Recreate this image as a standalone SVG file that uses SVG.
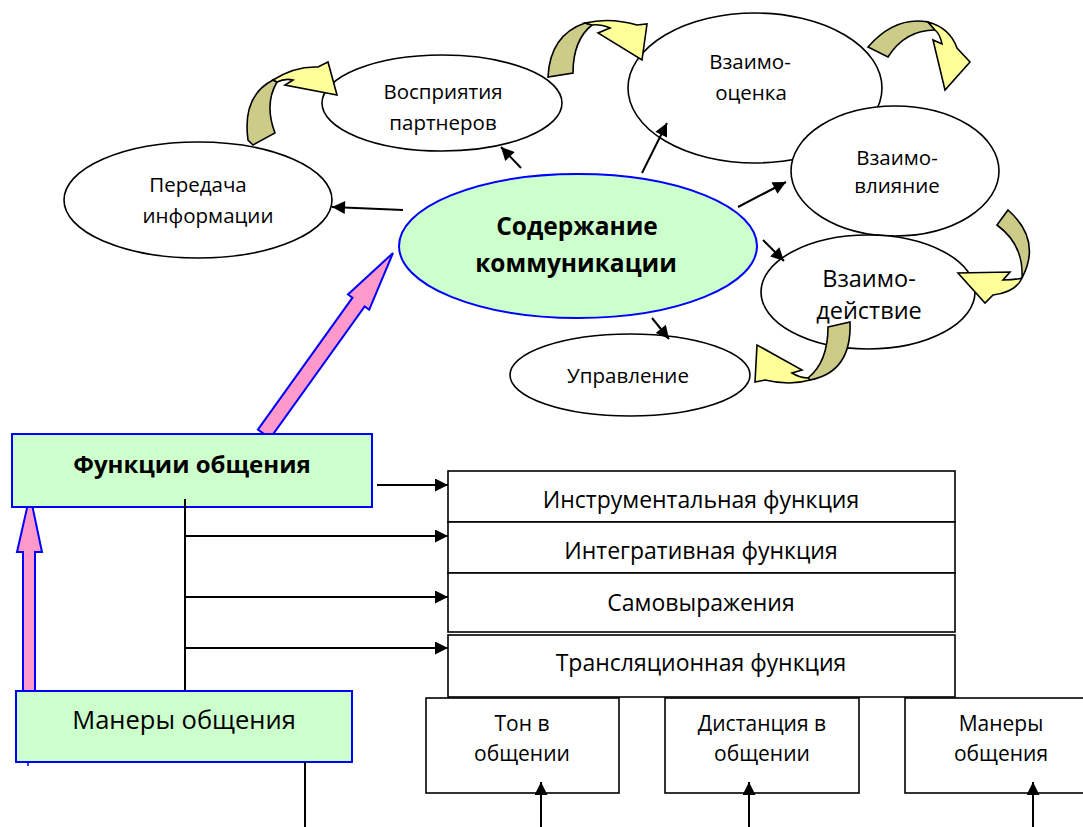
<svg xmlns="http://www.w3.org/2000/svg" width="1083" height="827" viewBox="0 0 1083 827">
<style>
text{font-family:"Open Sans","Liberation Sans",sans-serif;fill:#000;text-anchor:middle}
.el{fill:#fff;stroke:#000;stroke-width:1.6}
.main{fill:#ccffcc;stroke:#0000ff;stroke-width:2}
.box{fill:#fff;stroke:#000;stroke-width:1.6}
.gbox{fill:#ccffcc;stroke:#0000ff;stroke-width:2}
.ln{stroke:#000;stroke-width:2;fill:none}
.ar{stroke:#000;stroke-width:2;fill:none;marker-end:url(#ah)}
.dk{fill:#cccc88;stroke:#000;stroke-width:1.6;stroke-linejoin:miter}
.lt{fill:#ffff99;stroke:#000;stroke-width:1.6;stroke-linejoin:miter}
.pk{fill:#ff99cc;stroke:#0000ff;stroke-width:2}
.t17{font-size:20.5px}
.t20{font-size:23px}
.tb{font-size:21px}
</style>
<defs>
<marker id="ah" viewBox="0 0 10 10" refX="10" refY="5" markerWidth="15" markerHeight="13" markerUnits="userSpaceOnUse" orient="auto"><path d="M0,0 L10,5 L0,10 Z" fill="#000"/></marker>
</defs>

<g id="pink-arrows">
<polygon class="pk" points="257.9,429.6 352.5,297.7 348,294.5 393,253 369.2,309.7 364.7,306.5 270.1,438.4"/>
<polygon class="pk" points="23,700 23,552 17,552 30,495 42,552 35,552 35,700"/>
<line x1="28" y1="760" x2="28" y2="766" stroke="#0000ff" stroke-width="1.5"/>
</g>

<g id="node-peredacha">
<ellipse class="el" cx="198" cy="200" rx="134" ry="58"/>
<text class="t17" x="198" y="192">Передача</text>
<text class="t17" x="208" y="223">информации</text>
</g>
<g id="node-vospriyatiya">
<ellipse class="el" cx="442" cy="103" rx="120" ry="48"/>
<text class="t17" x="443" y="99">Восприятия</text>
<text class="t17" x="443" y="130">партнеров</text>
</g>
<g id="node-otsenka">
<ellipse class="el" cx="755" cy="88" rx="127" ry="75"/>
<text class="t17" x="750" y="69">Взаимо-</text>
<text class="t17" x="751" y="100">оценка</text>
</g>
<g id="node-vliyanie">
<ellipse class="el" cx="895" cy="171" rx="104" ry="65"/>
<text class="t17" x="897" y="165">Взаимо-</text>
<text class="t17" x="897" y="193">влияние</text>
</g>
<g id="node-deystvie">
<ellipse class="el" cx="868" cy="292" rx="107" ry="57"/>
<text x="869" y="287" font-size="23.5">Взаимо-</text>
<text x="869" y="319" font-size="23.5">действие</text>
</g>
<g id="node-upravlenie">
<ellipse class="el" cx="630" cy="375" rx="120" ry="41"/>
<text class="t17" x="628" y="383">Управление</text>
</g>
<g id="node-soderzhanie">
<ellipse class="main" cx="578" cy="246" rx="179" ry="72"/>
<text x="577" y="235" font-size="24.5" font-weight="bold">Содержание</text>
<text x="576" y="272" font-size="24.5" font-weight="bold">коммуникации</text>
</g>

<g id="curved-arrows">
<path class="dk" d="M253,145 L248,140 Q242,96 273,80 L277,82 Q264,104 275,133 Z"/>
<path class="lt" d="M273,80 Q295,66 318,67 L328,62 L337,95 L285,85 L293,80 Q285,78 277,82 Z"/>
<path class="dk" d="M548,77 Q550,35 585,23 L592,25 Q573,40 573,73 Z"/>
<path class="lt" d="M585,23 Q610,17 637,25 L647,24 L642,60 L598,33 L610,28 Q600,24 592,25 Z"/>
<path class="dk" d="M868,47 Q895,16 928,22 L935,30 Q905,30 888,57 Z"/>
<path class="lt" d="M928,22 Q950,28 957,48 L970,62 L945,90 L933,40 L942,44 Q940,34 935,30 Z"/>
<path class="dk" d="M997,225 L1008,210 Q1042,240 1022,278 Q1024,245 997,225 Z"/>
<path class="lt" d="M1022,278 Q1016,292 993,295 L985,303 L958,273 L1010,272 L1003,280 Q1015,280 1022,278 Z"/>
<path class="dk" d="M828,327 L850,322 Q852,372 810,380 L808,378 Q828,362 828,327 Z"/>
<path class="lt" d="M810,380 Q790,386 765,380 L755,382 L757,345 L802,370 L792,373 Q800,378 808,378 Z"/>
</g>

<g id="node-funktsii">
<rect class="gbox" x="12" y="434" width="360" height="73"/>
<text x="192" y="473" font-size="24" font-weight="bold">Функции общения</text>
</g>
<g id="node-manery-left">
<rect class="gbox" x="16" y="691" width="336" height="71"/>
<text x="184" y="729" font-size="25.5">Манеры общения</text>
</g>

<g id="node-instrumentalnaya">
<rect class="box" x="448" y="471" width="507" height="51"/>
<text class="t20" x="701" y="508">Инструментальная функция</text>
</g>
<g id="node-integrativnaya">
<rect class="box" x="448" y="522" width="507" height="51"/>
<text class="t20" x="701" y="559">Интегративная функция</text>
</g>
<g id="node-samovyrazheniya">
<rect class="box" x="448" y="573" width="507" height="59"/>
<text class="t20" x="701" y="611">Самовыражения</text>
</g>
<g id="node-translyatsionnaya">
<rect class="box" x="448" y="635" width="507" height="62"/>
<text class="t20" x="701" y="671">Трансляционная функция</text>
</g>

<g id="node-ton">
<rect class="box" x="426" y="698" width="193" height="95"/>
<text class="tb" x="522" y="731">Тон в</text>
<text class="tb" x="522" y="761">общении</text>
</g>
<g id="node-distantsiya">
<rect class="box" x="665" y="698" width="194" height="95"/>
<text class="tb" x="762" y="731">Дистанция в</text>
<text class="tb" x="762" y="761">общении</text>
</g>
<g id="node-manery-right">
<rect class="box" x="905" y="698" width="190" height="95"/>
<text class="tb" x="1001" y="731">Манеры</text>
<text class="tb" x="1001" y="761">общения</text>
</g>

<g id="connectors">
<line class="ar" x1="403" y1="210" x2="332" y2="207"/>
<line class="ar" x1="521" y1="168" x2="501" y2="147"/>
<line class="ar" x1="642" y1="173" x2="667" y2="123"/>
<line class="ar" x1="738" y1="207" x2="786" y2="182"/>
<line class="ar" x1="763" y1="240" x2="784" y2="261"/>
<line class="ar" x1="652" y1="318" x2="669" y2="339"/>
<line class="ar" x1="377" y1="485" x2="448" y2="485"/>
<line class="ln" x1="185" y1="499" x2="185" y2="690"/>
<line class="ar" x1="185" y1="536" x2="448" y2="536"/>
<line class="ar" x1="185" y1="597" x2="448" y2="597"/>
<line class="ar" x1="185" y1="648" x2="448" y2="648"/>
<line class="ln" x1="305" y1="762" x2="305" y2="827"/>
<line class="ar" x1="541" y1="827" x2="541" y2="782"/>
<line class="ar" x1="749" y1="827" x2="749" y2="782"/>
<line class="ar" x1="1033" y1="827" x2="1033" y2="782"/>
</g>
</svg>
